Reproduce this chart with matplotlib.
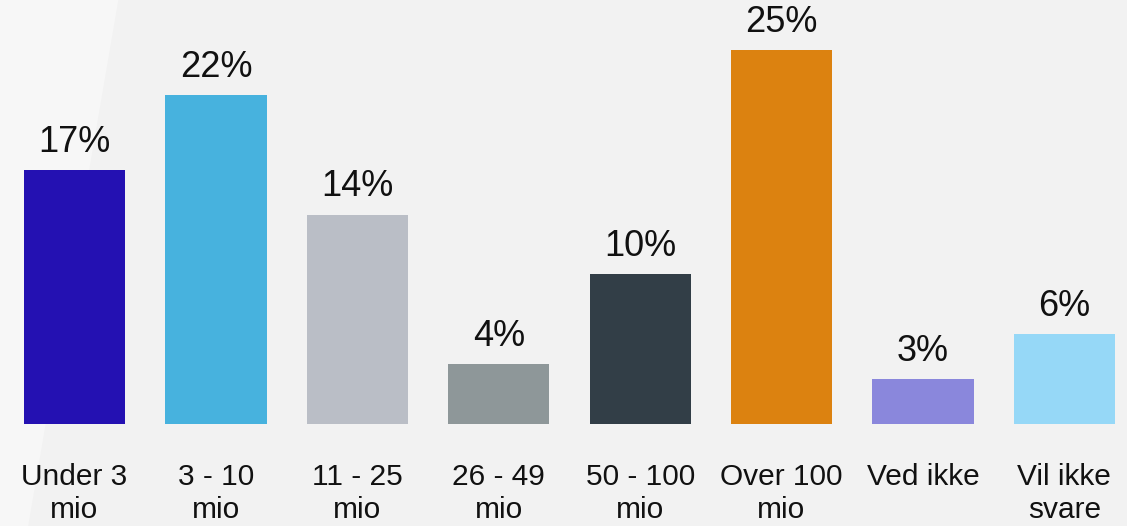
import matplotlib.pyplot as plt
from matplotlib.patches import Polygon

categories = ["Under 3\nmio", "3 - 10\nmio", "11 - 25\nmio", "26 - 49\nmio",
              "50 - 100\nmio", "Over 100\nmio", "Ved ikke", "Vil ikke\nsvare"]
shares = [17, 22, 14, 4, 10, 25, 3, 6]
colors = ["#2411b2", "#47b2de", "#babec6", "#8e9799",
          "#323e47", "#dc8210", "#8a87dc", "#96d8f7"]

plt.rcParams['font.family'] = ['Liberation Sans', 'DejaVu Sans']

fig = plt.figure(figsize=(11.27, 5.26), dpi=100)
fig.patch.set_facecolor("#f2f2f2")

# faint lighter wedge in the top-left corner, behind everything
bg = fig.add_axes([0, 0, 1, 1], zorder=-1)
bg.set_xlim(0, 1)
bg.set_ylim(0, 1)
bg.axis("off")
bg.add_patch(Polygon([(0, 1), (0.105, 1), (0.025, 0), (0, 0)], closed=True,
                     facecolor="#f7f7f7", edgecolor="none"))

ax = fig.add_axes([0, (526 - 424) / 526, 1, 424 / 526])
ax.set_facecolor("none")

x = range(len(categories))
bars = ax.bar(x, shares, width=0.716, color=colors)

for bar, v in zip(bars, shares):
    ax.annotate(f"{v}%", (bar.get_x() + bar.get_width() / 2, v),
                xytext=(0, 13), textcoords="offset points",
                ha="center", va="baseline", fontsize=26, color="#111111")

ax.set_xlim(-0.527, 7.443)
ax.set_ylim(0, 28.34)
ax.set_xticks(list(x))
ax.set_xticklabels(categories, fontsize=21.5, color="#111111", linespacing=1.25)
ax.tick_params(axis="x", length=0, pad=28)
ax.set_yticks([])
for s in ax.spines.values():
    s.set_visible(False)

fig.savefig("out.png", dpi=100, facecolor=fig.get_facecolor())
